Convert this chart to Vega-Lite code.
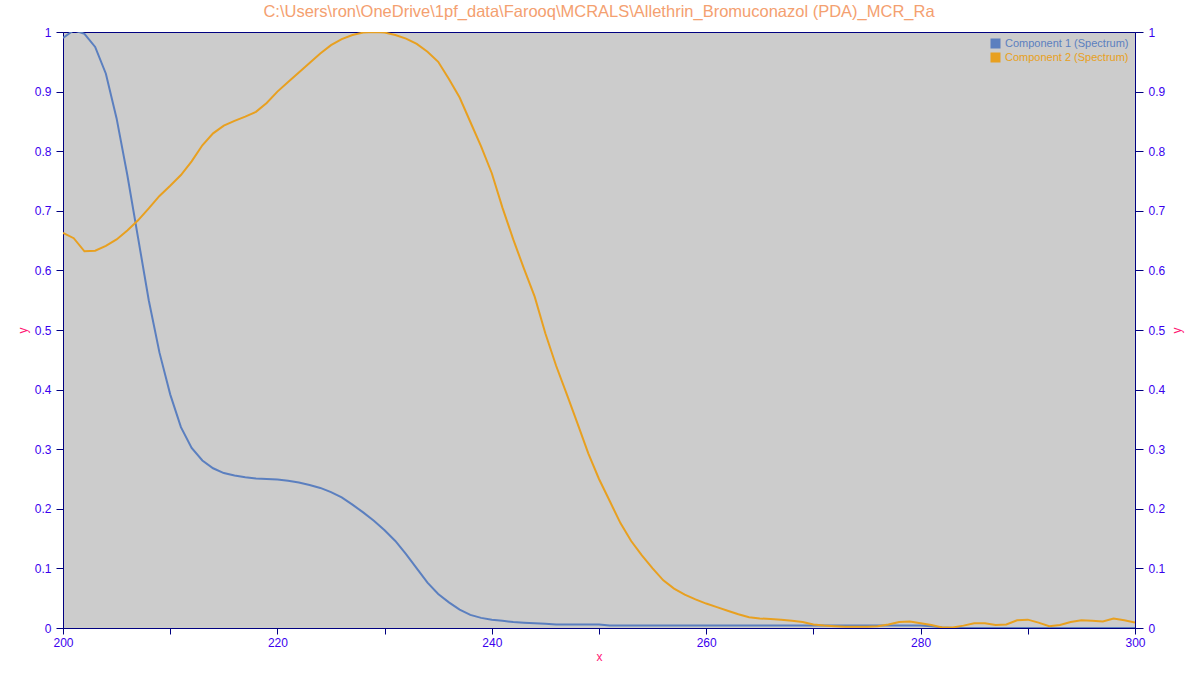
{
  "$schema": "https://vega.github.io/schema/vega-lite/v6.json",
  "width": 1072,
  "height": 596,
  "autosize": {"type": "none"},
  "padding": {"left": 63, "top": 32, "right": 65, "bottom": 47},
  "background": "white",
  "config": {
    "view": {"fill": "#cccccc", "stroke": "#000080", "strokeWidth": 1},
    "font": "Liberation Sans",
    "axis": {
      "domainColor": "#000080", "tickColor": "#000080", "labelColor": "#3a00ee",
      "titleColor": "#ff1a75", "grid": false, "labelFontSize": 12, "titleFontSize": 12,
      "titleFontWeight": "normal", "labelFont": "Liberation Sans", "titleFont": "Liberation Sans", "labelFlush": false
    }
  },
  "title": {"text": "C:\\Users\\ron\\OneDrive\\1pf_data\\Farooq\\MCRALS\\Allethrin_Bromuconazol (PDA)_MCR_Ra", "color": "#f4a070", "fontSize": 16.5, "fontWeight": "normal", "anchor": "middle", "offset": 6, "font": "Liberation Sans"},
  "datasets": {
    "c1": [
      {"x":200,"y":0.99},{"x":201,"y":1.003},{"x":202,"y":0.997},{"x":203,"y":0.975},{"x":204,"y":0.93},
      {"x":205,"y":0.855},{"x":206,"y":0.76},{"x":207,"y":0.655},{"x":208,"y":0.55},{"x":209,"y":0.462},
      {"x":210,"y":0.392},{"x":211,"y":0.337},{"x":212,"y":0.302},{"x":213,"y":0.281},{"x":214,"y":0.268},
      {"x":215,"y":0.26},{"x":216,"y":0.256},{"x":217,"y":0.253},{"x":218,"y":0.251},{"x":219,"y":0.25},
      {"x":220,"y":0.249},{"x":221,"y":0.247},{"x":222,"y":0.244},{"x":223,"y":0.24},{"x":224,"y":0.235},
      {"x":225,"y":0.228},{"x":226,"y":0.219},{"x":227,"y":0.207},{"x":228,"y":0.194},{"x":229,"y":0.18},
      {"x":230,"y":0.164},{"x":231,"y":0.146},{"x":232,"y":0.124},{"x":233,"y":0.1},{"x":234,"y":0.076},
      {"x":235,"y":0.057},{"x":236,"y":0.043},{"x":237,"y":0.031},{"x":238,"y":0.022},{"x":239,"y":0.017},
      {"x":240,"y":0.014},{"x":241,"y":0.012},{"x":242,"y":0.01},{"x":243,"y":0.009},{"x":244,"y":0.008},
      {"x":245,"y":0.007},{"x":246,"y":0.006},{"x":247,"y":0.006},{"x":248,"y":0.006},{"x":249,"y":0.006},
      {"x":250,"y":0.006},{"x":251,"y":0.004},{"x":252,"y":0.004},{"x":253,"y":0.004},{"x":254,"y":0.004},
      {"x":255,"y":0.004},{"x":256,"y":0.004},{"x":257,"y":0.004},{"x":258,"y":0.004},{"x":259,"y":0.004},
      {"x":260,"y":0.004},{"x":261,"y":0.004},{"x":262,"y":0.004},{"x":263,"y":0.004},{"x":264,"y":0.004},
      {"x":265,"y":0.004},{"x":266,"y":0.004},{"x":267,"y":0.004},{"x":268,"y":0.004},{"x":269,"y":0.004},
      {"x":270,"y":0.004},{"x":271,"y":0.004},{"x":272,"y":0.004},{"x":273,"y":0.004},{"x":274,"y":0.004},
      {"x":275,"y":0.004},{"x":276,"y":0.004},{"x":277,"y":0.004},{"x":278,"y":0.004},{"x":279,"y":0.004},
      {"x":280,"y":0.004},{"x":281,"y":0.003},{"x":282,"y":0.001},{"x":283,"y":0.0},{"x":284,"y":0.0},
      {"x":285,"y":0.0},{"x":286,"y":0.0},{"x":287,"y":0.0},{"x":288,"y":0.0},{"x":289,"y":0.0},
      {"x":290,"y":0.0},{"x":291,"y":0.0},{"x":292,"y":0.0},{"x":293,"y":0.0},{"x":294,"y":0.0},
      {"x":295,"y":0.0},{"x":296,"y":0.0},{"x":297,"y":0.0},{"x":298,"y":0.0},{"x":299,"y":0.0},
      {"x":300,"y":0.0}
    ],
    "c2": [
      {"x":200,"y":0.663},{"x":201,"y":0.654},{"x":202,"y":0.632},{"x":203,"y":0.633},{"x":204,"y":0.641},
      {"x":205,"y":0.652},{"x":206,"y":0.667},{"x":207,"y":0.684},{"x":208,"y":0.704},{"x":209,"y":0.725},
      {"x":210,"y":0.742},{"x":211,"y":0.76},{"x":212,"y":0.783},{"x":213,"y":0.81},{"x":214,"y":0.83},
      {"x":215,"y":0.843},{"x":216,"y":0.851},{"x":217,"y":0.858},{"x":218,"y":0.866},{"x":219,"y":0.881},
      {"x":220,"y":0.9},{"x":221,"y":0.916},{"x":222,"y":0.932},{"x":223,"y":0.948},{"x":224,"y":0.964},
      {"x":225,"y":0.978},{"x":226,"y":0.988},{"x":227,"y":0.995},{"x":228,"y":0.999},{"x":229,"y":1.0},
      {"x":230,"y":0.999},{"x":231,"y":0.995},{"x":232,"y":0.989},{"x":233,"y":0.98},{"x":234,"y":0.967},
      {"x":235,"y":0.95},{"x":236,"y":0.921},{"x":237,"y":0.89},{"x":238,"y":0.849},{"x":239,"y":0.808},
      {"x":240,"y":0.763},{"x":241,"y":0.705},{"x":242,"y":0.652},{"x":243,"y":0.603},{"x":244,"y":0.556},
      {"x":245,"y":0.494},{"x":246,"y":0.44},{"x":247,"y":0.392},{"x":248,"y":0.343},{"x":249,"y":0.293},
      {"x":250,"y":0.25},{"x":251,"y":0.213},{"x":252,"y":0.176},{"x":253,"y":0.146},{"x":254,"y":0.122},
      {"x":255,"y":0.1},{"x":256,"y":0.08},{"x":257,"y":0.066},{"x":258,"y":0.056},{"x":259,"y":0.048},
      {"x":260,"y":0.041},{"x":261,"y":0.035},{"x":262,"y":0.029},{"x":263,"y":0.023},{"x":264,"y":0.018},
      {"x":265,"y":0.016},{"x":266,"y":0.015},{"x":267,"y":0.014},{"x":268,"y":0.012},{"x":269,"y":0.01},
      {"x":270,"y":0.006},{"x":271,"y":0.004},{"x":272,"y":0.003},{"x":273,"y":0.002},{"x":274,"y":0.002},
      {"x":275,"y":0.002},{"x":276,"y":0.003},{"x":277,"y":0.006},{"x":278,"y":0.01},{"x":279,"y":0.011},
      {"x":280,"y":0.008},{"x":281,"y":0.005},{"x":282,"y":0.001},{"x":283,"y":0.001},{"x":284,"y":0.004},
      {"x":285,"y":0.008},{"x":286,"y":0.008},{"x":287,"y":0.005},{"x":288,"y":0.006},{"x":289,"y":0.013},
      {"x":290,"y":0.014},{"x":291,"y":0.009},{"x":292,"y":0.003},{"x":293,"y":0.005},{"x":294,"y":0.01},
      {"x":295,"y":0.013},{"x":296,"y":0.012},{"x":297,"y":0.011},{"x":298,"y":0.016},{"x":299,"y":0.013},
      {"x":300,"y":0.009}
    ]
  },
  "layer": [
    {
      "data": {"name": "c1"},
      "transform": [{"calculate": "'Component 1 (Spectrum)'", "as": "s"}],
      "mark": {"type": "line", "strokeWidth": 2, "clip": true},
      "encoding": {
        "x": {"field": "x", "type": "quantitative", "scale": {"domain": [200, 300], "nice": false, "zero": false},
              "axis": {"values": [200,210,220,230,240,250,260,270,280,290,300], "labelExpr": "datum.value % 20 == 0 ? datum.label : ''", "tickSize": 6, "labelPadding": 3, "title": "x", "titlePadding": 3}},
        "y": {"field": "y", "type": "quantitative", "scale": {"domain": [0, 1], "nice": false},
              "axis": {"orient": "left", "values": [0,0.1,0.2,0.3,0.4,0.5,0.6,0.7,0.8,0.9,1], "format": ".1~f", "tickSize": 7, "labelPadding": 5, "title": "y", "titlePadding": 5}},
        "color": {"field": "s", "type": "nominal",
                  "scale": {"domain": ["Component 1 (Spectrum)", "Component 2 (Spectrum)"], "range": ["#5b7fbf", "#e8a020"]},
                  "legend": {"title": null, "orient": "top-right", "offset": 4, "symbolType": "square", "symbolSize": 100, "symbolStrokeWidth": 0, "labelFontSize": 11, "labelFont": "Liberation Sans", "rowPadding": 2, "padding": 2,
                             "symbolFillColor": {"expr": "datum.label == 'Component 1 (Spectrum)' ? '#5b7fbf' : '#e8a020'"},
                             "labelColor": {"expr": "datum.label == 'Component 1 (Spectrum)' ? '#5b7fbf' : '#e8a020'"}}}
      }
    },
    {
      "data": {"name": "c2"},
      "transform": [{"calculate": "'Component 2 (Spectrum)'", "as": "s"}],
      "mark": {"type": "line", "strokeWidth": 2, "clip": true},
      "encoding": {
        "x": {"field": "x", "type": "quantitative"},
        "y": {"field": "y", "type": "quantitative",
              "axis": {"orient": "right", "values": [0,0.1,0.2,0.3,0.4,0.5,0.6,0.7,0.8,0.9,1], "format": ".1~f", "tickSize": 8, "labelPadding": 5, "title": "y", "titlePadding": 19, "titleAngle": -90}},
        "color": {"field": "s", "type": "nominal"}
      }
    }
  ],
  "resolve": {"axis": {"y": "independent"}}
}
